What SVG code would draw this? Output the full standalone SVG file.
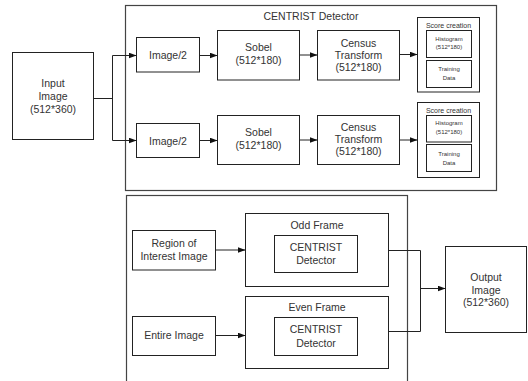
<svg xmlns="http://www.w3.org/2000/svg" width="528" height="381" viewBox="0 0 528 381">
<style>
rect{fill:#fff;stroke:#222;stroke-width:1}
text{font-family:"Liberation Sans",Arial,sans-serif;fill:#333;text-anchor:middle;dominant-baseline:central}
.m{font-size:10.5px}
.s{font-size:7px}
.xs{font-size:6px}
.c path{fill:none;stroke:#222;stroke-width:1}
.frame{stroke:#444;stroke-width:1.2}
</style>
<defs>
<marker id="a" markerWidth="8" markerHeight="6" refX="8" refY="3" orient="auto" markerUnits="userSpaceOnUse">
<path d="M0,0 L8,3 L0,6 Z" fill="#111"/>
</marker>
</defs>
<g id="centrist-frame"><rect class="frame" x="125.5" y="5.5" width="371" height="185"/><text class="m" x="311" y="15.5">CENTRIST Detector</text></g>
<g id="multi-frame"><rect class="frame" x="126.5" y="195.5" width="281" height="190"/></g>
<g id="input"><rect x="12.5" y="52.5" width="81" height="87"/><text class="m" x="53" y="82.7">Input</text><text class="m" x="53" y="95.7">Image</text><text class="m" x="53" y="108.5">(512*360)</text></g>
<g id="img2a"><rect x="136.5" y="37.5" width="63" height="34.5"/><text class="m" x="168" y="54.5">Image/2</text></g>
<g id="img2b"><rect x="136.5" y="123.5" width="63" height="34"/><text class="m" x="168" y="140.5">Image/2</text></g>
<g id="sobela"><rect x="217.5" y="30.5" width="82" height="49.5"/><text class="m" x="258.5" y="47">Sobel</text><text class="m" x="258.5" y="60">(512*180)</text></g>
<g id="sobelb"><rect x="217.5" y="115.5" width="82" height="49"/><text class="m" x="258.5" y="131.5">Sobel</text><text class="m" x="258.5" y="144.5">(512*180)</text></g>
<g id="censusa"><rect x="317.5" y="30.5" width="82" height="49.5"/><text class="m" x="358.5" y="42.5">Census</text><text class="m" x="358.5" y="54.5">Transform</text><text class="m" x="358.5" y="66.8">(512*180)</text></g>
<g id="censusb"><rect x="317.5" y="115.5" width="82" height="49"/><text class="m" x="358.5" y="126.8">Census</text><text class="m" x="358.5" y="138.5">Transform</text><text class="m" x="358.5" y="150.8">(512*180)</text></g>
<g id="scorea"><rect x="417.5" y="17.5" width="62" height="74.5"/><text class="s" x="448.5" y="25.8">Score creation</text>
<rect x="426.5" y="30.5" width="45" height="27"/><text class="xs" x="449" y="38.5">Histogram</text><text class="xs" x="449" y="47">(512*180)</text>
<rect x="426.5" y="60.5" width="45" height="27"/><text class="xs" x="449" y="69">Training</text><text class="xs" x="449" y="77.5">Data</text></g>
<g id="scoreb"><rect x="417.5" y="102.5" width="62" height="75"/><text class="s" x="448.5" y="110.2">Score creation</text>
<rect x="426.5" y="115.5" width="45" height="26.5"/><text class="xs" x="449" y="122.8">Histogram</text><text class="xs" x="449" y="131.7">(512*180)</text>
<rect x="426.5" y="144.5" width="45" height="27"/><text class="xs" x="449" y="154.3">Training</text><text class="xs" x="449" y="162.7">Data</text></g>
<g id="roi"><rect x="132.5" y="230.5" width="83" height="39.5"/><text class="m" x="174" y="243">Region of</text><text class="m" x="174" y="255.5">Interest Image</text></g>
<g id="entire"><rect x="132.5" y="316.5" width="83" height="39"/><text class="m" x="174" y="335.3">Entire Image</text></g>
<g id="odd"><rect x="245.5" y="213.5" width="143" height="73"/><text class="m" x="317" y="225">Odd Frame</text>
<rect x="274.5" y="235.5" width="83" height="37"/><text class="m" x="316" y="247">CENTRIST</text><text class="m" x="316" y="260">Detector</text></g>
<g id="even"><rect x="245.5" y="296.5" width="143" height="72"/><text class="m" x="317" y="307">Even Frame</text>
<rect x="274.5" y="317.5" width="83" height="38"/><text class="m" x="316" y="329.3">CENTRIST</text><text class="m" x="316" y="342.5">Detector</text></g>
<g id="output"><rect x="445.5" y="246.5" width="81" height="86"/><text class="m" x="486" y="277">Output</text><text class="m" x="486" y="289.5">Image</text><text class="m" x="486" y="301.5">(512*360)</text></g>
<g class="c" id="connectors">
<path d="M93.5,98.5 H112.5 M112.5,55.5 V140.5"/>
<path d="M112.5,55.5 H136.5" marker-end="url(#a)"/>
<path d="M112.5,140.5 H136.5" marker-end="url(#a)"/>
<path d="M199.5,55.5 H217.5" marker-end="url(#a)"/>
<path d="M199.5,140.5 H217.5" marker-end="url(#a)"/>
<path d="M299.5,55 H317.5" marker-end="url(#a)"/>
<path d="M299.5,140 H317.5" marker-end="url(#a)"/>
<path d="M399.5,54.5 H417.5" marker-end="url(#a)"/>
<path d="M399.5,140 H417.5" marker-end="url(#a)"/>
<path d="M215.5,250 H245.5" marker-end="url(#a)"/>
<path d="M215.5,335.5 H245.5" marker-end="url(#a)"/>
<path d="M388.5,250.5 H420.5 V331.5 H388.5"/>
<path d="M420.5,288.5 H445.5" marker-end="url(#a)"/>
</g>
</svg>
